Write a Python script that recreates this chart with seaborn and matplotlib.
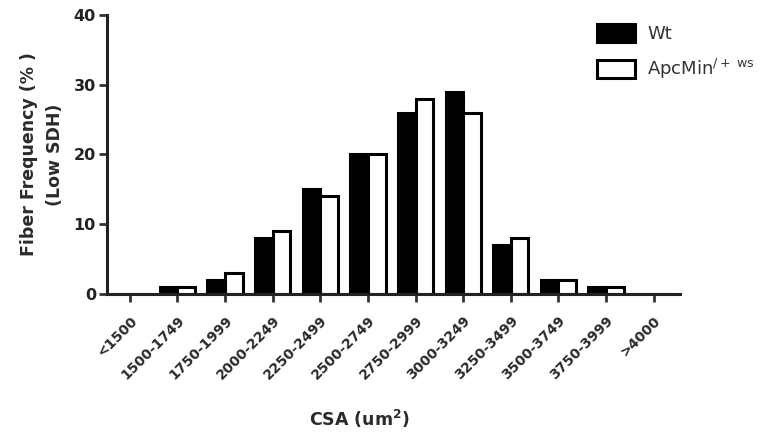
import matplotlib
matplotlib.use("Agg")
import matplotlib.pyplot as plt
import seaborn as sns
import pandas as pd

categories = ["<1500", "1500-1749", "1750-1999", "2000-2249", "2250-2499", "2500-2749",
              "2750-2999", "3000-3249", "3250-3499", "3500-3749", "3750-3999", ">4000"]
wt_values = [0, 1, 2, 8, 15, 20, 26, 29, 7, 2, 1, 0]
apc_values = [0, 1, 3, 9, 14, 20, 28, 26, 8, 2, 1, 0]
series_names = ["Wt", "ApcMin$^{\\mathregular{/+\\ ws}}$"]
y_ticks = [0, 10, 20, 30, 40]

sns.set_theme(style="ticks")
plt.rcParams["font.family"] = ["DejaVu Sans"]
plt.rcParams["mathtext.default"] = "regular"

df = pd.DataFrame({
    "cat": categories * 2,
    "val": wt_values + apc_values,
    "series": [series_names[0]] * len(categories) + [series_names[1]] * len(categories),
})

fig = plt.figure(figsize=(7.84, 4.36), dpi=100)
ax = fig.add_axes([0.1365, 0.3257, 0.867 - 0.1365, 0.9656 - 0.3257])

sns.barplot(data=df, x="cat", y="val", hue="series", order=categories,
            hue_order=series_names, palette=["black", "white"],
            edgecolor="black", linewidth=2.2, width=0.74, ax=ax)

ax.set_xlim(-0.48, 11.55)
ax.set_ylim(0, 40)
ax.set_yticks(y_ticks)
ax.set_yticklabels([str(t) for t in y_ticks], fontsize=11.5, fontweight="bold", color="#222")
ax.set_xticks(range(len(categories)))
ax.set_xticklabels(categories, rotation=45, ha="right", rotation_mode="anchor",
                   fontsize=10, fontweight="bold", color="#2a2a2a")

for s in ["top", "right"]:
    ax.spines[s].set_visible(False)
for s in ["left", "bottom"]:
    ax.spines[s].set_linewidth(2.2)
    ax.spines[s].set_color("#222")
ax.tick_params(axis="both", width=2, length=6, color="#333")
ax.tick_params(axis="x", pad=8)
ax.tick_params(axis="y", pad=2)

ax.set_ylabel("Fiber Frequency (% )\n(Low SDH)", fontsize=12.5, fontweight="bold",
              color="#2a2a2a", linespacing=1.6)
ax.yaxis.set_label_coords(-0.075, 0.5)
ax.set_xlabel("CSA (um$^2$)", fontsize=12.5, fontweight="bold", color="#2a2a2a")
ax.xaxis.set_label_coords(0.44, -0.41)

handles, labels = ax.get_legend_handles_labels()
ax.legend(handles, labels, loc="upper left", bbox_to_anchor=(0.855, 0.968),
          frameon=False, fontsize=13, handlelength=2.1, handleheight=1.2,
          labelspacing=0.75, handletextpad=0.7, borderpad=0, borderaxespad=0,
          labelcolor="#333")

fig.savefig("out.png", dpi=100)
